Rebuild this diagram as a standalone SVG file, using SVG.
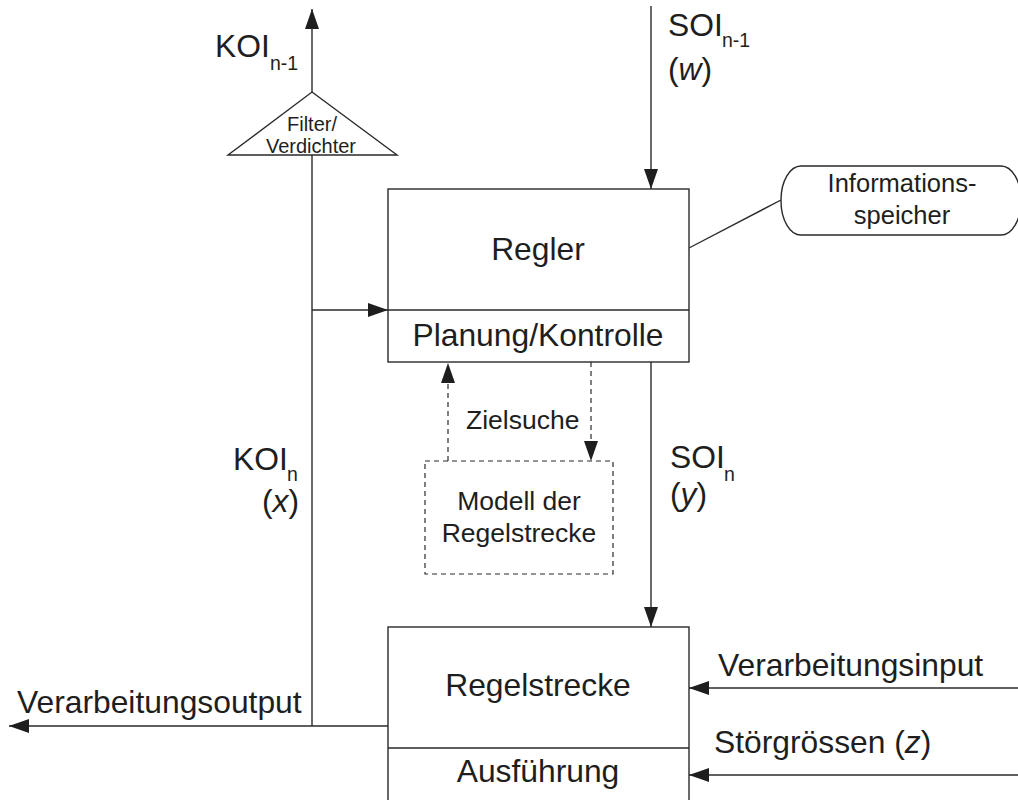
<svg xmlns="http://www.w3.org/2000/svg" width="1018" height="800" viewBox="0 0 1018 800">
  <style>
    .box { fill: #fff; stroke: #2a2a2a; stroke-width: 1.4; }
    .dash { fill: none; stroke: #2a2a2a; stroke-width: 1.2; stroke-dasharray: 5 4; }
    .ln { fill: none; stroke: #2a2a2a; stroke-width: 1.4; }
    text { font-family: "Liberation Sans", Arial, sans-serif; fill: #1e1e1e; }
    .big { font-size: 31.8px; }
    .mid { font-size: 26.5px; }
    .info { font-size: 25.5px; }
    .sm { font-size: 20px; }
    .sub { font-size: 19.5px; }
    .c { text-anchor: middle; }
  </style>
  <defs>
    <marker id="arr" viewBox="0 0 20 14" refX="20" refY="7" markerWidth="20" markerHeight="14" markerUnits="userSpaceOnUse" orient="auto">
      <path d="M0,0 L20,7 L0,14 Z" fill="#1e1e1e"/>
    </marker>
  </defs>

  <!-- connectors -->
  <g id="connectors">
    <!-- set point from above into the controller -->
    <line class="ln" x1="651" y1="6" x2="651" y2="189" marker-end="url(#arr)"/>
    <!-- control output to the plant -->
    <line class="ln" x1="651" y1="362" x2="651" y2="627" marker-end="url(#arr)"/>
    <!-- feedback path -->
    <line class="ln" x1="312" y1="155" x2="312" y2="726"/>
    <line class="ln" x1="312" y1="310" x2="388" y2="310" marker-end="url(#arr)"/>
    <!-- condensed report upwards -->
    <line class="ln" x1="312" y1="92" x2="312" y2="9" marker-end="url(#arr)"/>
    <!-- processing output -->
    <line class="ln" x1="388" y1="726" x2="9" y2="726" marker-end="url(#arr)"/>
    <!-- inputs into the plant -->
    <line class="ln" x1="1018" y1="688" x2="689" y2="688" marker-end="url(#arr)"/>
    <line class="ln" x1="1018" y1="775" x2="689" y2="775" marker-end="url(#arr)"/>
    <!-- link to information store -->
    <line class="ln" x1="689" y1="248" x2="781" y2="200"/>
    <!-- goal search loop with the model -->
    <line class="dash" x1="448" y1="461" x2="448" y2="363" marker-end="url(#arr)"/>
    <line class="dash" x1="591" y1="362" x2="591" y2="461" marker-end="url(#arr)"/>
  </g>

  <!-- controller -->
  <g id="regler">
    <rect class="box" x="388" y="189" width="301" height="173"/>
    <line class="ln" x1="388" y1="310" x2="689" y2="310"/>
    <text class="big c" x="538" y="260">Regler</text>
    <text class="big c" x="538" y="346">Planung/Kontrolle</text>
  </g>

  <!-- controlled system -->
  <g id="regelstrecke">
    <rect class="box" x="388" y="627" width="301" height="190"/>
    <line class="ln" x1="388" y1="748" x2="689" y2="748"/>
    <text class="big c" x="538" y="696">Regelstrecke</text>
    <text class="big c" x="538" y="782">Ausführung</text>
  </g>

  <!-- model of the controlled system -->
  <g id="modell">
    <rect class="dash" x="425" y="461" width="188" height="113"/>
    <text class="mid c" x="519" y="510">Modell der</text>
    <text class="mid c" x="519" y="542">Regelstrecke</text>
  </g>

  <!-- filter triangle -->
  <g id="filter">
    <polygon class="box" points="312,92 397,155 228,155"/>
    <text class="sm c" x="312" y="131">Filter/</text>
    <text class="sm c" x="311" y="153">Verdichter</text>
  </g>

  <!-- information store -->
  <g id="informationsspeicher">
    <rect class="box" x="781" y="166" width="240" height="69" rx="20" ry="34"/>
    <text class="info c" x="902" y="192">Informations-</text>
    <text class="info c" x="902" y="224">speicher</text>
  </g>

  <!-- connector labels -->
  <g id="labels">
    <text class="big" x="215" y="57">KOI<tspan class="sub" x="270" y="70">n-1</tspan></text>
    <text class="big" x="668" y="36">SOI<tspan class="sub" x="722" y="47">n-1</tspan></text>
    <text class="big" x="668" y="80">(<tspan font-style="italic">w</tspan>)</text>
    <text class="big" x="233" y="470">KOI<tspan class="sub" x="287" y="481">n</tspan></text>
    <text class="big" x="262" y="512">(<tspan font-style="italic">x</tspan>)</text>
    <text class="big" x="670" y="468">SOI<tspan class="sub" x="724" y="481">n</tspan></text>
    <text class="big" x="670" y="505">(<tspan font-style="italic">y</tspan>)</text>
    <text class="mid" x="466" y="429">Zielsuche</text>
    <text class="big" x="17" y="713">Verarbeitungsoutput</text>
    <text class="big" x="718" y="676">Verarbeitungsinput</text>
    <text class="big" x="714" y="753">Störgrössen (<tspan font-style="italic">z</tspan>)</text>
  </g>
</svg>
